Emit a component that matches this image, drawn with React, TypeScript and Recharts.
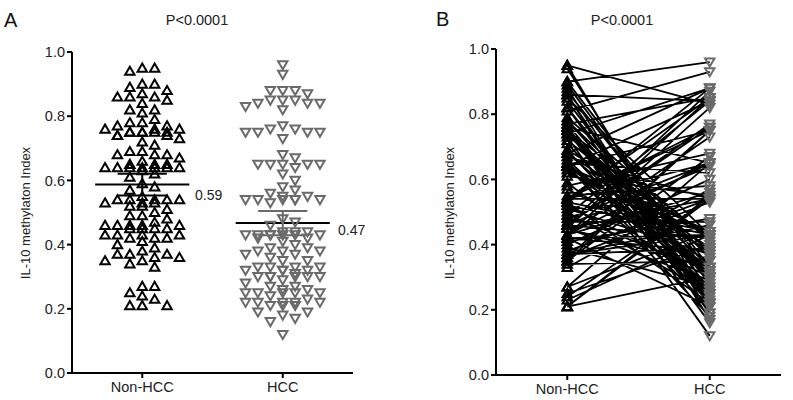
import React from 'react';
import {
  ComposedChart,
  Scatter,
  Line,
  XAxis,
  YAxis,
  ReferenceLine } from
'recharts';

const groups = ['Non-HCC', 'HCC'];
const yTicks = [0, 0.2, 0.4, 0.6, 0.8, 1.0];

// Non-HCC values, read top to bottom
const nonHcc = [
0.95, 0.94, 0.95,
0.90, 0.89, 0.88, 0.90,
0.86, 0.86, 0.84, 0.85, 0.86, 0.87,
0.82, 0.81, 0.82,
0.78, 0.77, 0.79, 0.78,
0.75, 0.74, 0.75, 0.74, 0.76, 0.75, 0.76, 0.75, 0.76, 0.75, 0.74, 0.77, 0.75,
0.72, 0.71, 0.73,
0.69, 0.68, 0.68, 0.66, 0.67, 0.68, 0.69,
0.64, 0.65, 0.64, 0.64, 0.65, 0.64, 0.65, 0.64, 0.64, 0.64, 0.61,
0.63, 0.62,
0.59, 0.58, 0.57,
0.54, 0.52, 0.54, 0.53, 0.54, 0.53, 0.54, 0.53, 0.51, 0.54, 0.52, 0.55,
0.50, 0.49, 0.49,
0.48, 0.47, 0.46, 0.45, 0.46, 0.45, 0.46, 0.46, 0.46, 0.45, 0.45,
0.43, 0.42, 0.43, 0.42, 0.43, 0.42, 0.43, 0.41, 0.40,
0.39,
0.38, 0.36, 0.37, 0.35, 0.37, 0.33, 0.37, 0.34, 0.35, 0.36,
0.27, 0.27, 0.25, 0.24, 0.23, 0.21, 0.21, 0.21];

// HCC values, in the same (paired) order as nonHcc
const hcc = [
0.83, 0.25, 0.22, 0.96, 0.30, 0.19, 0.33, 0.84, 0.21, 0.26, 0.43, 0.17, 0.32, 0.22, 0.93, 0.28, 0.36, 0.25, 0.41, 0.30,
0.23, 0.88, 0.31, 0.38, 0.22, 0.16, 0.65, 0.33, 0.24, 0.42, 0.30, 0.85, 0.19, 0.37, 0.25, 0.12,
0.43, 0.88, 0.32, 0.27, 0.54, 0.39, 0.22, 0.75, 0.30, 0.44, 0.18, 0.62, 0.33, 0.25, 0.84, 0.38, 0.21, 0.55, 0.32, 0.43, 0.26, 0.68, 0.35,
0.76, 0.30, 0.85, 0.44, 0.65, 0.22, 0.54, 0.88, 0.37, 0.75, 0.43, 0.58, 0.25, 0.84, 0.32,
0.65, 0.47, 0.77, 0.33, 0.87, 0.54, 0.42, 0.76, 0.64, 0.29, 0.85, 0.56, 0.43, 0.73, 0.38, 0.65, 0.21, 0.82, 0.48, 0.60, 0.27,
0.54, 0.75, 0.43, 0.67, 0.39, 0.57, 0.46, 0.35, 0.75, 0.53, 0.44, 0.65, 0.40, 0.54, 0.43, 0.55, 0.30, 0.54];

const means = [0.587, 0.467];
const errHalf = [0.034, 0.038];
const meanLabels = ['0.59', '0.47'];

const GRAY = '#6a6a6a';
const FONT = '"Liberation Sans", Arial, sans-serif';

// simple beeswarm: spread points sideways (in x-axis units) so they don't overlap
function swarm(values: number[], center: number, pxPerX: number, pxPerY: number) {
  const half = 6.2, maxPx = 42, cx = 10, cy = 7.5;
  const order = values.map((_, i) => i).sort((a, b) => values[b] - values[a]);
  const placed: {dx: number;py: number;}[] = [];
  const out: {x: number;y: number;}[] = new Array(values.length);
  for (const i of order) {
    const py = values[i] * pxPerY;
    let best = 0,bestHits = Infinity;
    const cands: number[] = [0];
    for (let k = 1; k * half <= maxPx; k++) cands.push(k * half, -k * half);
    for (const c of cands) {
      const hits = placed.filter((p) => Math.abs(p.dx - c) < cx && Math.abs(p.py - py) < cy).length;
      if (hits < bestHits) {
        bestHits = hits;
        best = c;
      }
      if (hits === 0) break;
    }
    placed.push({ dx: best, py });
    out[i] = { x: center + best / pxPerX, y: values[i] };
  }
  return out;
}

const UpTri = (props: any) => {
  const { cx, cy } = props;
  if (cx == null || cy == null) return null;
  return (
    <path
      d={`M${cx},${cy - 4.5}L${cx + 4.7},${cy + 3.6}L${cx - 4.7},${cy + 3.6}Z`}
      fill="none"
      stroke="#000"
      strokeWidth={2} />);

};

const DownTri = (props: any) => {
  const { cx, cy } = props;
  if (cx == null || cy == null) return null;
  return (
    <path
      d={`M${cx - 4.7},${cy - 3.6}L${cx + 4.7},${cy - 3.6}L${cx},${cy + 4.5}Z`}
      fill="none"
      stroke={GRAY}
      strokeWidth={2} />);

};

const XTick = (p: any) =>
<text x={p.x} y={p.y} dy="0.8em" textAnchor="middle" fontSize={14.5} fill="#222" fontFamily={FONT}>
    {groups[(p.payload.value - 1) / 2]}
  </text>;


const YTick = (p: any) =>
<text x={p.x} y={p.y} dy="0.36em" textAnchor="end" fontSize={14.5} fill="#222" fontFamily={FONT}>
    {Number(p.payload.value).toFixed(1)}
  </text>;


const axisStyle = { stroke: '#000', strokeWidth: 2 };

function Axes({ xh }: {xh: number;}) {
  return null;
}

function PanelA() {
  const a = swarm(nonHcc, 1, 70.25, 321);
  const b = swarm(hcc, 3, 70.25, 321);
  return (
    <ComposedChart
      width={370}
      height={400}
      margin={{ top: 52, right: 17, left: 32, bottom: 5 }}>

      <XAxis
        type="number"
        dataKey="x"
        domain={[0, 4]}
        ticks={[1, 3]}
        axisLine={axisStyle}
        tickLine={axisStyle}
        tickSize={5}
        tick={XTick}
        height={22} />

      <YAxis
        type="number"
        dataKey="y"
        domain={[0, 1]}
        ticks={yTicks}
        axisLine={axisStyle}
        tickLine={axisStyle}
        tickSize={5}
        tick={YTick}
        width={40} />

      <Scatter data={a} shape={UpTri} isAnimationActive={false} />
      <Scatter data={b} shape={DownTri} isAnimationActive={false} />
      {[0, 1].map((g) => {
        const c = 1 + g * 2;
        const col = g === 0 ? '#000' : GRAY;
        return (
          <React.Fragment key={g}>
            <ReferenceLine segment={[{ x: c - 0.67, y: means[g] }, { x: c + 0.67, y: means[g] }]} stroke="#000" strokeWidth={2} />
            <ReferenceLine segment={[{ x: c - 0.35, y: means[g] + errHalf[g] }, { x: c + 0.35, y: means[g] + errHalf[g] }]} stroke={col} strokeWidth={2} />
            <ReferenceLine segment={[{ x: c - 0.35, y: means[g] - errHalf[g] }, { x: c + 0.35, y: means[g] - errHalf[g] }]} stroke={col} strokeWidth={2} />
            <ReferenceLine segment={[{ x: c, y: means[g] - errHalf[g] }, { x: c, y: means[g] + errHalf[g] }]} stroke={col} strokeWidth={2} />
          </React.Fragment>);

      })}
    </ComposedChart>);

}

function PanelB() {
  const lines = nonHcc.flatMap((v, i) => [
  { x: 1, y: v },
  { x: 3, y: hcc[i] },
  { x: 3, y: null }]
  );
  const a = nonHcc.map((v) => ({ x: 1, y: v }));
  const b = hcc.map((v) => ({ x: 3, y: v }));
  return (
    <ComposedChart
      width={393}
      height={400}
      margin={{ top: 49, right: 12, left: 56, bottom: 5 }}>

      <XAxis
        type="number"
        dataKey="x"
        domain={[0, 4]}
        ticks={[1, 3]}
        axisLine={axisStyle}
        tickLine={axisStyle}
        tickSize={5}
        tick={XTick}
        height={20} />

      <YAxis
        type="number"
        dataKey="y"
        domain={[0, 1]}
        ticks={yTicks}
        axisLine={axisStyle}
        tickLine={axisStyle}
        tickSize={5}
        tick={YTick}
        width={40} />

      <Line
        data={lines}
        dataKey="y"
        stroke="#000"
        strokeWidth={1.8}
        dot={false}
        activeDot={false}
        connectNulls={false}
        isAnimationActive={false} />

      <Scatter data={a} shape={UpTri} isAnimationActive={false} />
      <Scatter data={b} shape={DownTri} isAnimationActive={false} />
    </ComposedChart>);

}

export default function App() {
  return (
    <div
      style={{
        position: 'absolute',
        left: 0,
        top: 0,
        width: 793,
        height: 400,
        background: '#fff',
        fontFamily: FONT
      }}>

      <div style={{ position: 'absolute', left: 0, top: 0 }}>
        <PanelA />
      </div>
      <div style={{ position: 'absolute', left: 400, top: 0 }}>
        <PanelB />
      </div>
      <svg
        width={793}
        height={400}
        style={{ position: 'absolute', left: 0, top: 0, pointerEvents: 'none' }}
        fontFamily={FONT}>

        <text x={4} y={27} fontSize={20} fill="#111">A</text>
        <text x={436} y={26} fontSize={20} fill="#111">B</text>
        <text x={197} y={25} fontSize={14.5} fill="#222" textAnchor="middle">{'P<0.0001'}</text>
        <text x={622} y={25} fontSize={14.5} fill="#222" textAnchor="middle">{'P<0.0001'}</text>
        <text transform="translate(30,213) rotate(-90)" fontSize={13} fill="#222" textAnchor="middle">
          IL-10 methylaton Index
        </text>
        <text transform="translate(454,213) rotate(-90)" fontSize={13} fill="#222" textAnchor="middle">
          IL-10 methylaton Index
        </text>
        <text x={195} y={200} fontSize={14} fill="#222">{meanLabels[0]}</text>
        <text x={338} y={235} fontSize={14} fill="#222">{meanLabels[1]}</text>
      </svg>
    </div>);

}
